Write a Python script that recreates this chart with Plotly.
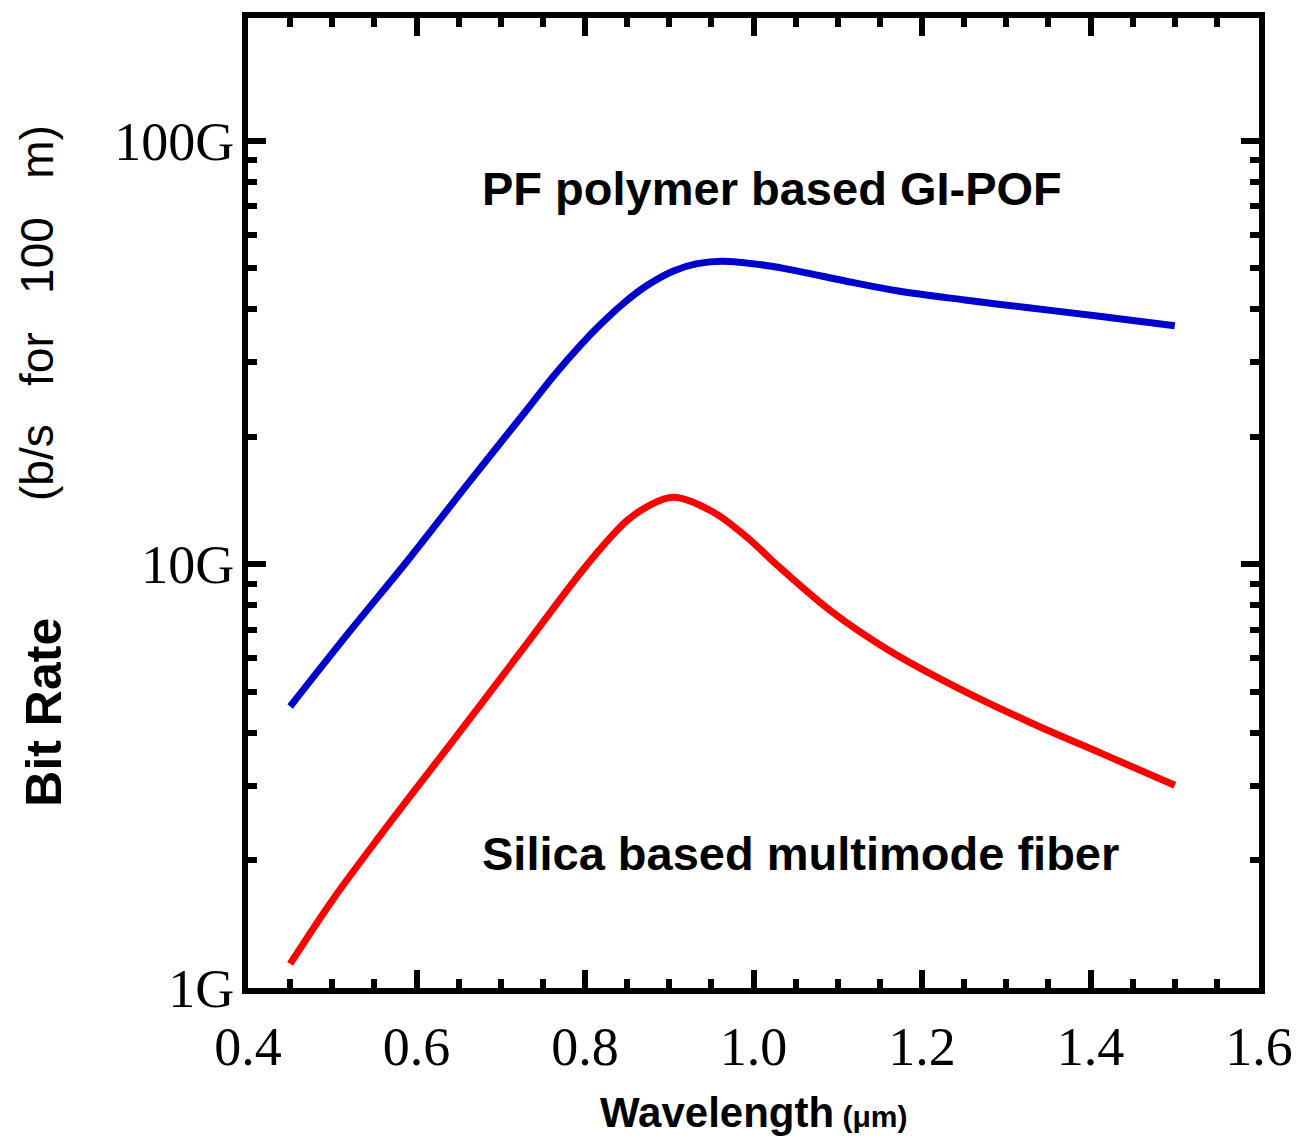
import plotly.graph_objects as go

# Wavelength (um) and bit rate (Gb/s for 100 m)
pof_wavelength = [0.45, 0.52, 0.591, 0.662, 0.732, 0.763, 0.795, 0.818, 0.846, 0.874,
                  0.905, 0.933, 0.963, 1.015, 1.054, 1.113, 1.172, 1.251, 1.329, 1.408, 1.50]
pof_bitrate = [4.62, 6.92, 10.3, 15.6, 23.3, 27.9, 33.0, 36.8, 41.4, 45.6,
               49.3, 51.3, 52.0, 50.8, 49.2, 46.5, 44.2, 42.1, 40.3, 38.6, 36.6]

silica_wavelength = [0.45, 0.50, 0.559, 0.618, 0.677, 0.736, 0.795, 0.834, 0.850, 0.874,
                     0.905, 0.952, 0.992, 1.031, 1.093, 1.160, 1.244, 1.329, 1.413, 1.50]
silica_bitrate = [1.14, 1.61, 2.32, 3.30, 4.69, 6.70, 9.57, 11.8, 12.7, 13.7,
                  14.4, 13.3, 11.6, 9.84, 7.73, 6.28, 5.09, 4.23, 3.58, 3.01]

x_major = [0.4, 0.6, 0.8, 1.0, 1.2, 1.4, 1.6]
x_labels = ["0.4", "0.6", "0.8", "1.0", "1.2", "1.4", "1.6"]
y_major = [1, 10, 100]
y_labels = ["1G", "10G", "100G"]
y_minor = [m * d for d in (1, 10, 100) for m in range(2, 10)]

fig = go.Figure()
fig.add_trace(go.Scatter(x=pof_wavelength, y=pof_bitrate, mode="lines",
                         line=dict(color="#0000CC", width=7, shape="spline", smoothing=1.0),
                         showlegend=False))
fig.add_trace(go.Scatter(x=silica_wavelength, y=silica_bitrate, mode="lines",
                         line=dict(color="#FF0000", width=7, shape="spline", smoothing=1.0),
                         showlegend=False))

serif = "Liberation Serif, Times New Roman, serif"
sans = "Liberation Sans, Arial, sans-serif"

fig.update_xaxes(range=[0.4, 1.6], tickmode="array", tickvals=x_major, ticktext=x_labels,
                 ticks="inside", ticklen=18, tickwidth=6, tickcolor="black",
                 showline=True, linewidth=6, linecolor="black", mirror="allticks",
                 showgrid=False, zeroline=False,
                 tickfont=dict(family=serif, size=54, color="black"),
                 ticklabelstandoff=6,
                 minor=dict(dtick=0.05, tick0=0.4, ticks="inside", ticklen=9, tickwidth=6,
                            tickcolor="black", showgrid=False))
fig.update_yaxes(type="log", range=[0, 2.29], tickmode="array", tickvals=y_major, ticktext=y_labels,
                 ticks="inside", ticklen=18, tickwidth=6, tickcolor="black",
                 showline=True, linewidth=6, linecolor="black", mirror="allticks",
                 showgrid=False, zeroline=False,
                 tickfont=dict(family=serif, size=54, color="black"),
                 ticklabelstandoff=-3,
                 minor=dict(tickmode="array", tickvals=y_minor, ticks="inside", ticklen=9, tickwidth=6,
                            tickcolor="black", showgrid=False))

fig.add_annotation(x=0.675, y=1.888, xref="x", yref="y", text="PF polymer based GI-POF",
                   showarrow=False, xanchor="left", yanchor="middle",
                   font=dict(family=sans, size=47, color="black", weight="bold"))
fig.add_annotation(x=0.675, y=0.3185, xref="x", yref="y", text="Silica based multimode fiber",
                   showarrow=False, xanchor="left", yanchor="middle",
                   font=dict(family=sans, size=47, color="black", weight="bold"))

fig.add_annotation(x=0.5, y=-0.1285, xref="paper", yref="paper",
                   text="<b>Wavelength</b><span style='font-size:30px'> (μm)</span>",
                   showarrow=False, xanchor="center", yanchor="middle",
                   font=dict(family=sans, size=42, color="black", weight="bold"))
fig.add_annotation(x=-0.2026, y=0.284, xref="paper", yref="paper", text="Bit Rate",
                   showarrow=False, textangle=-90, xanchor="center", yanchor="middle",
                   font=dict(family=sans, size=50, color="black", weight="bold"))
fig.add_annotation(x=-0.2086, y=0.696, xref="paper", yref="paper",
                   text="(b/s\u00a0\u00a0\u00a0for\u00a0\u00a0\u00a0100\u00a0\u00a0\u00a0m)",
                   showarrow=False, textangle=-90, xanchor="center", yanchor="middle",
                   font=dict(family=sans, size=46, color="black"))

# The page body has an 8 px margin, so the figure is sized to fit the window inside it.
fig.update_layout(width=1289, height=1128, autosize=False,
                  margin=dict(l=240, r=37, t=4, b=148, pad=0),
                  plot_bgcolor="white", paper_bgcolor="white")

fig.write_html("out.html")
